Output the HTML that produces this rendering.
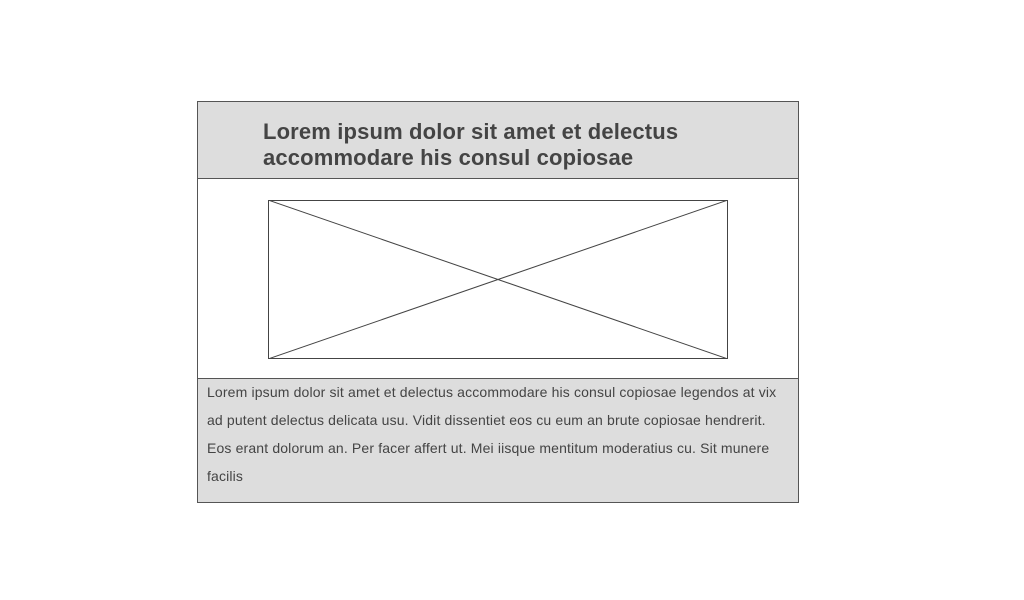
<!DOCTYPE html>
<html><head><meta charset="utf-8"><style>
html,body{margin:0;padding:0;width:1024px;height:600px;background:#fff;overflow:hidden}
body{font-family:"Liberation Sans",sans-serif;position:relative}
.card{position:absolute;left:197px;top:101px;width:600px;height:400px;border:1px solid #555;background:#fff;overflow:hidden}
.hdr{position:absolute;left:0;top:0;width:600px;height:76px;background:#dddddd;border-bottom:1px solid #555}
.hdr h1{position:absolute;left:65px;top:17px;margin:0;font-size:22px;line-height:26px;font-weight:bold;color:#444;width:520px;letter-spacing:0.15px;white-space:nowrap}
.img{position:absolute;left:70px;top:98px;width:460px;height:159px}
.ftr{position:absolute;left:0;top:276px;width:600px;height:124px;background:#dddddd;border-top:1px solid #555}
.ftr p{margin:0;position:absolute;left:9px;top:-1px;width:590px;font-size:14px;line-height:28px;color:#444;letter-spacing:0.15px;white-space:nowrap}
</style></head><body>
<div class="card">
 <div class="hdr">
  <h1>Lorem ipsum dolor sit amet et delectus<br>accommodare his consul copiosae</h1>
 </div>
 <svg class="img" width="460" height="159" viewBox="0 0 460 159">
  <rect x="0.5" y="0.5" width="459" height="158" fill="#fff" stroke="#444"/>
  <line x1="0" y1="0" x2="460" y2="159" stroke="#444"/>
  <line x1="460" y1="0" x2="0" y2="159" stroke="#444"/>
 </svg>
 <div class="ftr">
  <p>Lorem ipsum dolor sit amet et delectus accommodare his consul copiosae legendos at vix<br>ad putent delectus delicata usu. Vidit dissentiet eos cu eum an brute copiosae hendrerit.<br>Eos erant dolorum an. Per facer affert ut. Mei iisque mentitum moderatius cu. Sit munere<br>facilis</p>
 </div>
</div>
</body></html>
